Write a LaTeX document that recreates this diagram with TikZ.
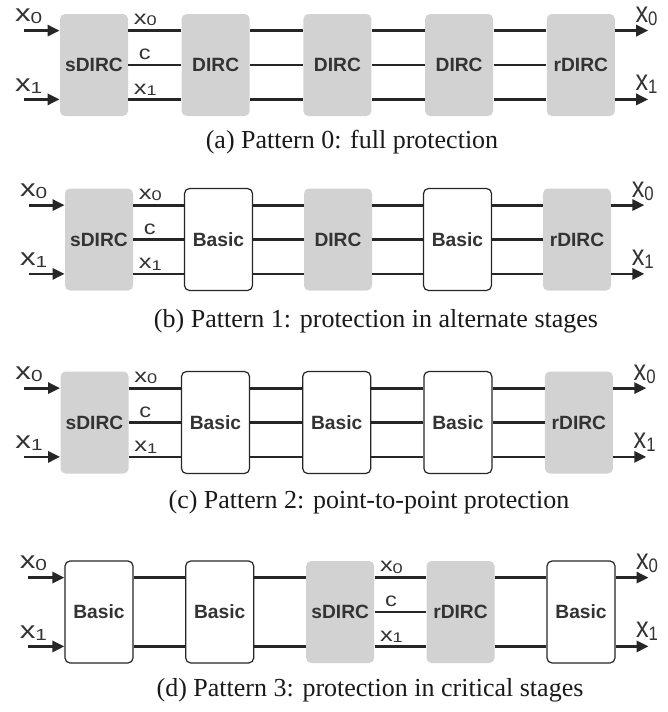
\documentclass[tikz,border=0pt]{standalone}
\usepackage{fontspec}
\setmainfont{Liberation Serif}
\setsansfont{Liberation Sans}
\usetikzlibrary{arrows.meta, positioning}

\newcommand{\inlab}[1]{\scalebox{1.3}[1]{x\raisebox{-1pt}{\fontsize{8}{9}\selectfont #1}}}
\newcommand{\outlab}[1]{\scalebox{1.05}[1.22]{x\raisebox{-1.2pt}{\fontsize{8}{9}\selectfont #1}}}
\newcommand{\wirelab}[1]{\scalebox{1.3}[1]{x\raisebox{-0.7pt}{\fontsize{7}{8}\selectfont #1}}}

\begin{document}
\begin{tikzpicture}[x=0.5pt, y=-0.5pt,
        dirc/.style={rectangle, rounded corners=2.5pt, fill=gray!35, minimum width=34pt, minimum height=51pt, inner sep=0pt, font=\sffamily\bfseries\fontsize{9.6}{11}\selectfont, text=black!80},
        basic/.style={dirc, fill=white, draw=black!85, line width=0.6pt},
        wire/.style={line width=1.4pt, black!85},
        arr/.style={wire, -{Triangle[length=6pt, width=5.5pt]}},
        iolab/.style={inner sep=0pt, anchor=base west, text=black!80, font=\sffamily\fontsize{12}{14}\selectfont},
        wlab/.style={inner sep=0pt, anchor=base west, text=black!80, font=\sffamily\fontsize{9.8}{11}\selectfont},
        captxt/.style={inner sep=0pt, text=black!90, font=\fontsize{13}{15}\selectfont}
    ]
    \useasboundingbox (0,0) rectangle (668,712);

    % (a) full protection
    \node[dirc] (a1) at (94,65) {sDIRC};
    \node[dirc, right=26.45pt of a1] (a2) {DIRC};
    \node[dirc, right=26.45pt of a2] (a3) {DIRC};
    \node[dirc, right=26.45pt of a3] (a4) {DIRC};
    \node[dirc, right=26.45pt of a4] (a5) {rDIRC};
    \node[captxt] (capa) at (352,142) {(a) Pattern 0: full protection};

    % (b) alternate stages
    \node[dirc] (b1) at (99,239.5) {sDIRC};
    \node[basic, right=25.25pt of b1] (b2) {Basic};
    \node[dirc, right=25.25pt of b2] (b3) {DIRC};
    \node[basic, right=25.25pt of b3] (b4) {Basic};
    \node[dirc, right=25.25pt of b4] (b5) {rDIRC};
    \node[captxt] (capb) at (376,321) {(b) Pattern 1: protection in alternate stages};

    % (c) point-to-point
    \node[dirc] (c1) at (94.5,422.5) {sDIRC};
    \node[basic, right=26pt of c1] (c2) {Basic};
    \node[basic, right=26pt of c2] (c3) {Basic};
    \node[basic, right=26pt of c3] (c4) {Basic};
    \node[dirc, right=26pt of c4] (c5) {rDIRC};
    \node[captxt] (capc) at (369,502) {(c) Pattern 2: point-to-point protection};

    % (d) critical stages
    \node[basic] (d1) at (99,612) {Basic};
    \node[basic, right=25.75pt of d1] (d2) {Basic};
    \node[dirc, right=25.75pt of d2] (d3) {sDIRC};
    \node[dirc, right=25.75pt of d3] (d4) {rDIRC};
    \node[basic, right=25.75pt of d4] (d5) {Basic};
    \node[captxt] (capd) at (370,690) {(d) Pattern 3: protection in critical stages};

    % wires
    \foreach \i/\j in {a1/a2,a2/a3,a3/a4,a4/a5,b1/b2,b2/b3,b3/b4,b4/b5,c1/c2,c2/c3,c3/c4,c4/c5,d3/d4}
        \foreach \d in {17.2pt,0pt,-17.2pt}
            \draw[wire] ([yshift=\d]\i.east) -- ([yshift=\d]\j.west);
    \foreach \i/\j in {d1/d2,d2/d3,d4/d5}
        \foreach \d in {17.2pt,-17.2pt}
            \draw[wire] ([yshift=\d]\i.east) -- ([yshift=\d]\j.west);

    % inputs and outputs
    \foreach \p in {a,b,c,d} {
        \coordinate (\p i0) at ([shift={(-18pt,17.2pt)}]\p1.west);
        \coordinate (\p i1) at ([shift={(-18pt,-17.2pt)}]\p1.west);
        \coordinate (\p o0) at ([shift={(16.5pt,17.2pt)}]\p5.east);
        \coordinate (\p o1) at ([shift={(16.5pt,-17.2pt)}]\p5.east);
        \draw[arr] (\p i0) -- ([yshift=17.2pt]\p1.west);
        \draw[arr] (\p i1) -- ([yshift=-17.2pt]\p1.west);
        \draw[arr] ([yshift=17.2pt]\p5.east) -- (\p o0);
        \draw[arr] ([yshift=-17.2pt]\p5.east) -- (\p o1);
        \node[iolab] (\p li0) at ([shift={(-4.5pt,4.5pt)}]\p i0) {\inlab{0}};
        \node[iolab] (\p li1) at ([shift={(-4.5pt,4pt)}]\p i1) {\inlab{1}};
        \node[iolab] (\p lo0) at ([shift={(-6.5pt,4pt)}]\p o0) {\outlab{0}};
        \node[iolab] (\p lo1) at ([shift={(-6.5pt,4.3pt)}]\p o1) {\outlab{1}};
    }

    % labels after the sDIRC stage
    \foreach \s in {a1,b1,c1,d3} {
        \node[wlab] at ([shift={(2.5pt,20.2pt)}]\s.east) {\wirelab{0}};
        \node[wlab] at ([shift={(5pt,2.6pt)}]\s.east) {\scalebox{1.2}[1]{c}};
        \node[wlab] at ([shift={(2.5pt,-14.6pt)}]\s.east) {\wirelab{1}};
    }
\end{tikzpicture}
\end{document}
